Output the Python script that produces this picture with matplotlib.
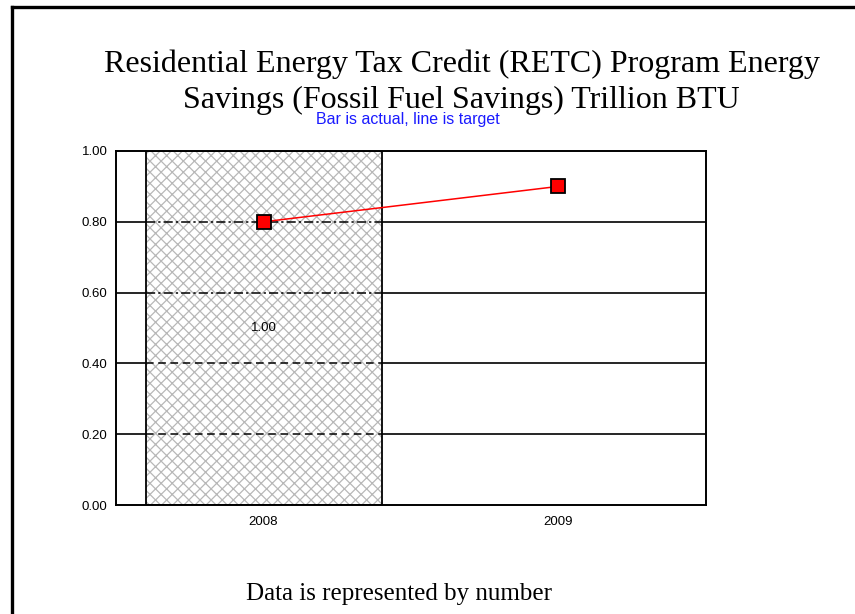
import matplotlib
matplotlib.use("Agg")
import matplotlib.pyplot as plt

# data
years = ["2008", "2009"]
actual = [1.00]          # bar (only 2008 has an actual value)
target = [0.80, 0.90]    # line
yticks = [0.0, 0.2, 0.4, 0.6, 0.8, 1.0]

title = "Residential Energy Tax Credit (RETC) Program Energy\nSavings (Fossil Fuel Savings) Trillion BTU"
subtitle = "Bar is actual, line is target"
footer = "Data is represented by number"

plt.rcParams['hatch.linewidth'] = 0.9

fig = plt.figure(figsize=(8.55, 6.14), dpi=100)
ax = fig.add_axes([0.1357, 0.1775, 0.690, 0.5766])

# page border (left and top only)
fig.add_artist(plt.Line2D([0.0146, 0.0146], [0.0, 0.9885], color='black', lw=2.4,
                          transform=fig.transFigure))
fig.add_artist(plt.Line2D([0.0146, 1.0], [0.9885, 0.9885], color='black', lw=2.4,
                          transform=fig.transFigure))

x = list(range(len(years)))
bw = 0.8

# solid grid lines behind everything
for yv in yticks[1:-1]:
    ax.axhline(yv, color='black', lw=1.2, zorder=1)

# hatched bar + black outline
ax.bar(x[:len(actual)], actual, width=bw, facecolor='white', edgecolor='#b8b8b8',
       hatch='xxx', lw=0, zorder=2)
ax.bar(x[:len(actual)], actual, width=bw, facecolor='none', edgecolor='black', lw=1.3, zorder=3)

# grid lines drawn through the bar are broken
for yv in yticks[1:-1]:
    ls = (0, (6, 2, 1.5, 2)) if yv > 0.5 else (0, (5, 3))
    for i, v in enumerate(actual):
        ax.hlines(yv, x[i] - bw / 2, x[i] + bw / 2, color='black', lw=1.1,
                  linestyles=[ls], zorder=4)

# bar value label
for i, v in enumerate(actual):
    ax.text(x[i], v / 2, f"{v:.2f}", ha='center', va='center', fontsize=9.5,
            family='Liberation Sans', zorder=5)

# target line
ax.plot(x, target, color='red', lw=1.1, marker='s', markersize=10,
        markerfacecolor='red', markeredgecolor='black', markeredgewidth=1.3, zorder=6)

ax.set_xlim(-0.5, 1.5)
ax.set_ylim(0, 1.0)
ax.set_xticks(x)
ax.set_xticklabels(years)
ax.set_yticks(yticks)
ax.set_yticklabels([f"{v:.2f}" for v in yticks])
ax.tick_params(length=0, labelsize=9.5, pad=6)
ax.tick_params(axis='x', pad=8)
for lab in ax.get_xticklabels() + ax.get_yticklabels():
    lab.set_family('Liberation Sans')
for s in ax.spines.values():
    s.set_linewidth(1.4)

fig.text(0.54, 0.866, title, ha='center', va='center', fontsize=23,
         family='Liberation Serif', linespacing=1.3)
fig.text(0.477, 0.806, subtitle, ha='center', va='center', fontsize=11.5,
         family='Liberation Sans', color='#1a1aff')
fig.text(0.467, 0.033, footer, ha='center', va='center', fontsize=18,
         family='Liberation Serif')

fig.savefig("out.png", dpi=100)
